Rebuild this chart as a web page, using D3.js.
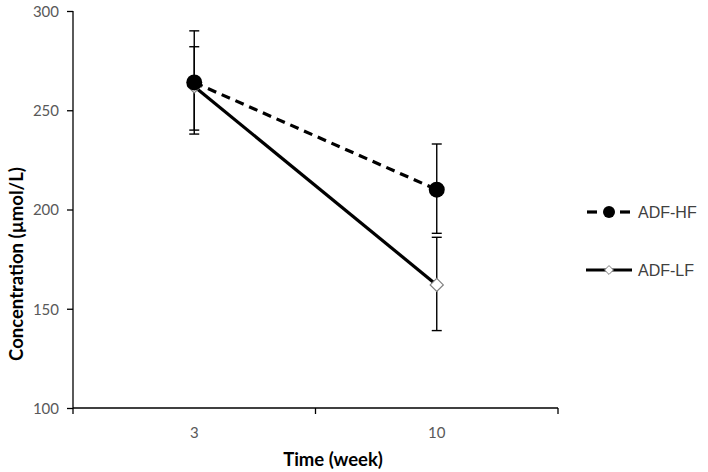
<!DOCTYPE html>
<html><head><meta charset="utf-8">
<script src="https://cdn.jsdelivr.net/npm/d3@7/dist/d3.min.js"></script>
<style>body{margin:0;background:#fff}svg{display:block}</style>
</head><body>
<script>
const categories = ["3", "10"];
const hfValues = [264, 210];
const hfUpper = [290, 233];
const hfLower = [238, 188];
const lfValues = [262, 162];
const lfUpper = [282, 186];
const lfLower = [240, 139];
const yTicks = [100, 150, 200, 250, 300];
const seriesNames = ["ADF-HF", "ADF-LF"];

const W = 708, H = 472;
const svg = d3.select("body").append("svg").attr("width", W).attr("height", H);
const x = d3.scaleBand().domain(categories).range([73, 558]);
const y = d3.scaleLinear().domain([100, 300]).range([408, 11]);
const font = "Arial, 'Liberation Sans', sans-serif";
const tfont = "Lato, 'Open Sans', sans-serif";

// y axis
const ya = svg.append("g").attr("transform", "translate(73,0)")
  .call(d3.axisLeft(y).tickValues(yTicks).tickSize(6).tickPadding(8));
ya.select(".domain").attr("stroke", "#000").attr("stroke-width", 1.3).attr("d", `M0,${y(300)}V${y(100)}`);
ya.selectAll(".tick line").attr("stroke", "#000").attr("stroke-width", 1.3);
ya.selectAll("text").attr("font-family", tfont).attr("font-size", 15).attr("fill", "#595959").attr("dy", "0.35em");

// x axis
const xa = svg.append("g").attr("transform", "translate(0,408)");
xa.append("path").attr("d", `M73,0H558`).attr("stroke", "#000").attr("stroke-width", 1.3);
const bounds = [73, 73 + x.bandwidth(), 558];
xa.selectAll("line.tk").data(bounds).enter().append("line")
  .attr("x1", d => d).attr("x2", d => d).attr("y1", 0).attr("y2", 6)
  .attr("stroke", "#000").attr("stroke-width", 1.3);
xa.selectAll("text").data(categories).enter().append("text")
  .attr("x", d => x(d) + x.bandwidth() / 2).attr("y", 30)
  .attr("text-anchor", "middle").attr("font-family", tfont).attr("font-size", 15).attr("fill", "#595959")
  .text(d => d);

// axis titles
svg.append("text").attr("x", 333).attr("y", 466).attr("text-anchor", "middle")
  .attr("font-family", tfont).attr("font-size", 18.5).attr("font-weight", "bold").attr("fill", "#000")
  .text("Time (week)");
svg.append("text").attr("transform", "translate(23,264) rotate(-90)").attr("text-anchor", "middle")
  .attr("font-family", tfont).attr("font-size", 18.5).attr("font-weight", "bold").attr("fill", "#000")
  .text("Concentration (µmol/L)");

const cx = d => x(d) + x.bandwidth() / 2;

// error bars
function errBars(up, lo) {
  const g = svg.append("g").attr("stroke", "#000").attr("stroke-width", 1.4);
  categories.forEach((c, i) => {
    g.append("line").attr("x1", cx(c)).attr("x2", cx(c)).attr("y1", y(up[i])).attr("y2", y(lo[i]));
    [up[i], lo[i]].forEach(v => g.append("line").attr("x1", cx(c) - 5).attr("x2", cx(c) + 5).attr("y1", y(v)).attr("y2", y(v)));
  });
}
errBars(hfUpper, hfLower);
errBars(lfUpper, lfLower);

const line = d3.line().x((d, i) => cx(categories[i])).y(d => y(d));
svg.append("path").datum(lfValues).attr("d", line).attr("fill", "none").attr("stroke", "#000").attr("stroke-width", 3.2);
svg.append("path").datum(hfValues).attr("d", line).attr("fill", "none").attr("stroke", "#000").attr("stroke-width", 3.2).attr("stroke-dasharray", "9,6");

const diamond = d3.symbol().type(d3.symbolDiamond2).size(110);
svg.selectAll("path.lf").data(lfValues).enter().append("path")
  .attr("transform", (d, i) => `translate(${cx(categories[i])},${y(d)})`)
  .attr("d", diamond).attr("fill", "#fff").attr("stroke", "#7f7f7f").attr("stroke-width", 1.2);
svg.selectAll("circle.hf").data(hfValues).enter().append("circle")
  .attr("cx", (d, i) => cx(categories[i])).attr("cy", d => y(d)).attr("r", 8).attr("fill", "#000");

// legend
const lg = svg.append("g");
[{ y: 212, dash: true, name: seriesNames[0] }, { y: 270, dash: false, name: seriesNames[1] }].forEach((s, i) => {
  if (s.dash) {
    lg.append("line").attr("x1", 587).attr("x2", 597).attr("y1", s.y).attr("y2", s.y).attr("stroke", "#000").attr("stroke-width", 3.2);
    lg.append("line").attr("x1", 620).attr("x2", 630).attr("y1", s.y).attr("y2", s.y).attr("stroke", "#000").attr("stroke-width", 3.2);
  } else {
    lg.append("line").attr("x1", 586).attr("x2", 632).attr("y1", s.y).attr("y2", s.y).attr("stroke", "#000").attr("stroke-width", 3.2);
  }
  if (i === 0) lg.append("circle").attr("cx", 609).attr("cy", s.y).attr("r", 6).attr("fill", "#000");
  else lg.append("path").attr("transform", `translate(609,${s.y})`).attr("d", d3.symbol().type(d3.symbolDiamond2).size(50))
    .attr("fill", "#fff").attr("stroke", "#7f7f7f").attr("stroke-width", 1);
  lg.append("text").attr("x", 638).attr("y", s.y + 6).attr("font-family", font).attr("font-size", 16).attr("fill", "#404040").text(s.name);
});
</script>
</body></html>
